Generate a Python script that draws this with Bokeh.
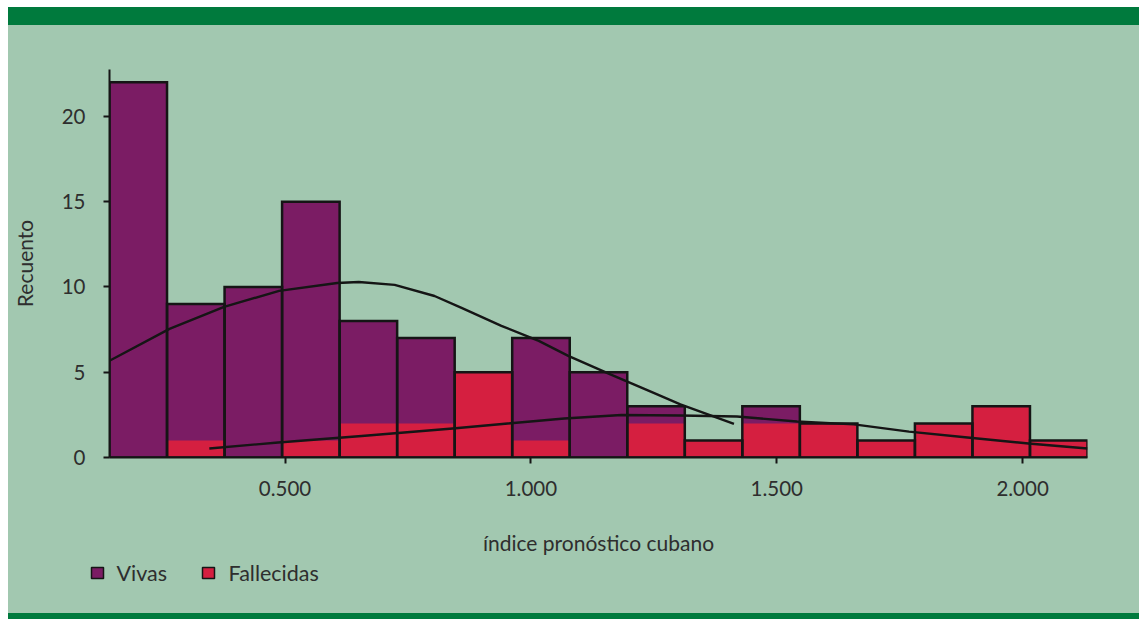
from bokeh.plotting import figure
from bokeh.models import (Range1d, FixedTicker, Div, CustomJSTickFormatter)
from bokeh.core.properties import value
from bokeh.layouts import column
from bokeh.embed import file_html
from bokeh.resources import INLINE

# Histogram of the Cuban prognostic index, survivors vs. deceased
bin_start = 0.143
bin_width = 0.117
vivas = [22, 9, 10, 15, 8, 7, 0, 7, 5, 3, 0, 3, 0, 0, 0, 0, 0]
fallecidas = [0, 1, 0, 1, 2, 2, 5, 1, 0, 2, 1, 2, 2, 1, 2, 3, 1]

# fitted density curves (scaled to counts)
vivas_curve_x = [0.143, 0.265, 0.376, 0.488, 0.606, 0.650, 0.723, 0.804,
                 0.859, 0.940, 1.016, 1.076, 1.164, 1.245, 1.304, 1.413]
vivas_curve_y = [5.67, 7.54, 8.83, 9.77, 10.23, 10.29, 10.12, 9.47,
                 8.77, 7.72, 6.84, 5.96, 4.85, 3.85, 3.12, 1.97]
fallecidas_curve_x = [0.346, 0.486, 0.656, 0.841, 0.953, 1.068, 1.184, 1.304,
                      1.419, 1.541, 1.657, 1.769, 1.888, 2.012, 2.132]
fallecidas_curve_y = [0.53, 0.88, 1.26, 1.70, 1.99, 2.29, 2.49, 2.46,
                      2.40, 2.11, 1.94, 1.52, 1.17, 0.82, 0.53]

x_ticks = [0.5, 1.0, 1.5, 2.0]
x_tick_labels = ["0.500", "1.000", "1.500", "2.000"]
y_ticks = [0, 5, 10, 15, 20]
legend_labels = ["Vivas", "Fallecidas"]

BG = "#A2C8B0"
BAND = "#007A3D"
PURPLE = "#7B1C64"
RED = "#D51F40"
INK = "#151515"
TEXT = "#2e2e2e"
FONT = "Lato"

n = len(vivas)
lefts = [bin_start + i * bin_width for i in range(n)]
rights = [bin_start + (i + 1) * bin_width for i in range(n)]

p = figure(width=1131, height=536, output_backend="svg", toolbar_location=None,
           x_range=Range1d(bin_start, bin_start + n * bin_width),
           y_range=Range1d(0, 22.75),
           min_border_left=99, min_border_right=52,
           min_border_top=44, min_border_bottom=104,
           margin=(0, 0, 0, 8), styles={"background-color": BG})
p.frame_align = False
p.background_fill_alpha = 0
p.border_fill_alpha = 0
p.outline_line_color = None
p.grid.visible = False

# fills first, then outlines so purple edges show through the red
p.quad(left=lefts, right=rights, bottom=0, top=vivas,
       fill_color=PURPLE, line_color=None)
p.quad(left=lefts, right=rights, bottom=0, top=fallecidas,
       fill_color=RED, line_color=None)

v_idx = [i for i in range(n) if vivas[i] > 0]
p.quad(left=[lefts[i] for i in v_idx], right=[rights[i] for i in v_idx],
       bottom=0, top=[vivas[i] for i in v_idx],
       fill_color=None, line_color=INK, line_width=2.5, line_join="miter")
f_idx = [i for i in range(n) if fallecidas[i] > vivas[i]]
p.quad(left=[lefts[i] for i in f_idx], right=[rights[i] for i in f_idx],
       bottom=0, top=[fallecidas[i] for i in f_idx],
       fill_color=None, line_color=INK, line_width=2.5, line_join="miter")

p.line(vivas_curve_x, vivas_curve_y, line_color=INK, line_width=2.4,
       line_join="round")
p.line(fallecidas_curve_x, fallecidas_curve_y, line_color=INK, line_width=2.4,
       line_join="round")

# axes
p.xaxis.ticker = FixedTicker(ticks=x_ticks)
p.xaxis.formatter = CustomJSTickFormatter(args=dict(labels=x_tick_labels),
                                          code="return labels[index];")
p.yaxis.ticker = FixedTicker(ticks=y_ticks)
p.xaxis.axis_label = "índice pronóstico cubano"
p.yaxis.axis_label = "Recuento"
for ax in (p.xaxis, p.yaxis):
    ax.axis_line_color = INK
    ax.axis_line_width = 2
    ax.major_tick_line_color = INK
    ax.major_tick_line_width = 2
    ax.major_tick_in = 0
    ax.major_tick_out = 6
    ax.minor_tick_line_color = None
    ax.major_label_text_font = FONT
    ax.major_label_text_font_size = "20.5px"
    ax.major_label_text_color = TEXT
    ax.axis_label_text_font = FONT
    ax.axis_label_text_font_size = "21px"
    ax.axis_label_text_font_style = "normal"
    ax.axis_label_text_color = TEXT
p.xaxis.major_label_standoff = 17
p.xaxis.axis_label_standoff = 31
p.yaxis.major_label_standoff = 18
p.yaxis.axis_label_standoff = 22

# legend strip under the chart, drawn in pixel-sized units
lg = figure(width=1131, height=52, output_backend="svg", toolbar_location=None,
            x_range=Range1d(0, 1131), y_range=Range1d(0, 52),
            x_axis_type=None, y_axis_type=None,
            min_border=0, margin=(0, 0, 0, 8),
            styles={"background-color": BG})
lg.frame_align = False
lg.background_fill_alpha = 0
lg.border_fill_alpha = 0
lg.outline_line_color = None
lg.grid.visible = False

swatch_left = [83, 194]
label_left = [108, 220]
lg.quad(left=swatch_left, right=[s + 12 for s in swatch_left],
        bottom=35, top=46, fill_color=[PURPLE, RED],
        line_color=INK, line_width=1.5)
lg.text(x=label_left, y=41, text=legend_labels,
        text_font=value(FONT), text_font_size="21.5px",
        text_color=TEXT, text_baseline="alphabetic", text_align="left")

top_band = Div(text="", width=1131, height=18, margin=(7, 0, 0, 8),
               styles={"background-color": BAND})
bottom_band = Div(text="", width=1131, height=6, margin=(0, 0, 0, 8),
                  styles={"background-color": BAND})

layout = column(top_band, p, lg, bottom_band, spacing=0)

with open("out.html", "w") as f:
    f.write(file_html(layout, INLINE))
